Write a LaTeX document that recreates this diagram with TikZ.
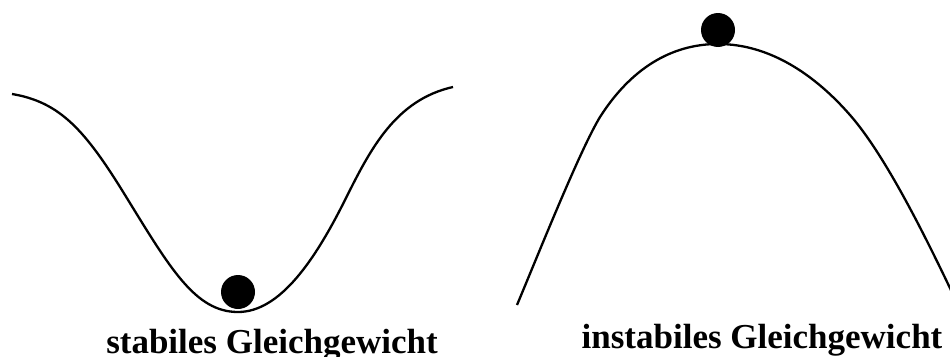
\documentclass[tikz,border=0pt]{standalone}
\usepackage{fontspec}
\setmainfont{Liberation Serif}
\begin{document}
\begin{tikzpicture}[x=1pt,y=-1pt,
  curve/.style={line width=2.3pt, line join=round},
  ball/.style={fill=black},
  caption/.style={anchor=base, inner sep=0pt, font=\fontsize{35}{40}\selectfont\bfseries}]
\useasboundingbox (0,0) rectangle (950,356);
\clip (0,0) rectangle (950,356);
% stable well
\draw[curve] (12,94) .. controls (60,102) and (85,130) .. (125,195)
  .. controls (170,268) and (195,312) .. (238,312)
  .. controls (280,312) and (315,260) .. (345,200)
  .. controls (370,150) and (395,100) .. (453,87);
\fill[ball] (238,292) circle (17);
\node[caption] (stab) at (272,353) {stabiles Gleichgewicht};
% unstable hill
\draw[curve] (517,305) .. controls (540,250) and (580,150) .. (600,117)
  .. controls (630,70) and (670,44) .. (718,44)
  .. controls (770,44) and (815,75) .. (850,115)
  .. controls (885,155) and (925,235) .. (958,305);
\fill[ball] (718,30) circle (17);
\node[caption] (instab) at (762,348) {instabiles Gleichgewicht};
\end{tikzpicture}
\end{document}
